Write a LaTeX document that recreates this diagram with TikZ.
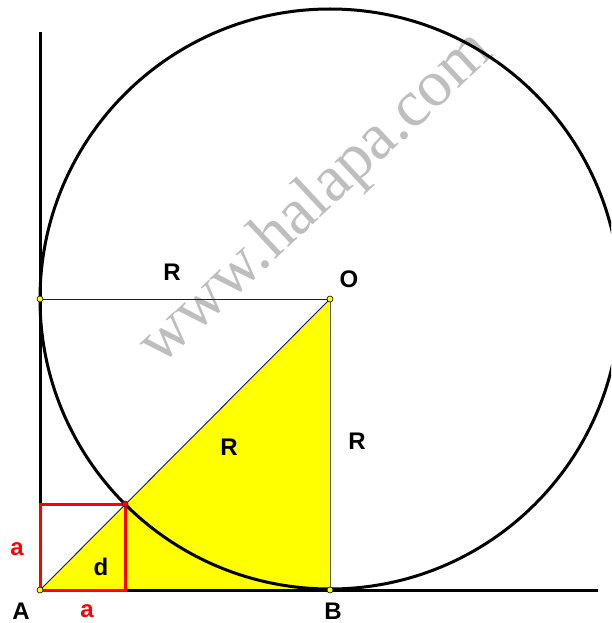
\documentclass[tikz,border=0pt]{standalone}
\usepackage{fontspec}
\setmainfont{Liberation Sans}
\newfontfamily\wmfont{Liberation Serif}
\definecolor{navy}{RGB}{20,20,120}
\definecolor{olivegray}{RGB}{90,90,50}
\definecolor{wmgray}{RGB}{190,190,190}
\definecolor{ptyellow}{RGB}{255,255,0}
\tikzset{
  heavy/.style={line width=3pt, black},
  thin/.style={line width=0.9pt},
  redline/.style={line width=3pt, red, line join=miter},
  ptdot/.style={circle, draw=black, fill=ptyellow, line width=0.6pt, inner sep=0pt, minimum size=6pt},
  reddot/.style={circle, draw=black!60!red, fill=red, line width=0.6pt, inner sep=0pt, minimum size=6pt},
  lbl/.style={font=\fontsize{24}{24}\selectfont\bfseries, inner sep=0pt},
  redlbl/.style={lbl, text=red}
}
\begin{document}
\begin{tikzpicture}[x=1pt,y=-1pt]
\useasboundingbox (0,0) rectangle (611,623);
\clip (0,0) rectangle (611,623);
\coordinate (A) at (40,590);
\coordinate (B) at (330,590);
\coordinate (O) at (330,299);
\coordinate (C) at (40,299);
\coordinate (P) at (125,504);
\coordinate (Q) at (40,504);
\coordinate (S) at (125,590);
\coordinate (Top) at (40,32);
\coordinate (End) at (598,590);
% watermark
\node[text=wmgray, font=\wmfont\fontsize{66}{66}\selectfont, rotate=43, inner sep=0pt] (wm) at (317,199) {www.halapa.com};
% yellow triangle
\fill[ptyellow] (A) -- (B) -- (O) -- cycle;
% circle
\draw[heavy] (O) circle[radius=290];
% axes
\draw[heavy] (Top) -- (A) -- (End);
% red square
\draw[redline] (A) -- (Q) -- (P) -- (S) -- cycle;
% thin lines
\draw[thin, navy] (A) -- (O);
\draw[thin, navy] (C) -- (O);
\draw[thin, olivegray] (O) -- (B);
% dots
\node[ptdot] (dA) at (A) {};
\node[ptdot] (dB) at (B) {};
\node[ptdot] (dO) at (O) {};
\node[ptdot] (dC) at (C) {};
\node[reddot] (dP) at (P) {};
% labels
\node[lbl] (lR1) at (172,272) {R};
\node[lbl] (lO) at (349,279) {O};
\node[lbl] (lR2) at (229,447) {R};
\node[lbl] (lR3) at (357,441) {R};
\node[lbl] (ld) at (101,567) {d};
\node[redlbl] (la1) at (17,549) {a};
\node[redlbl] (la2) at (87,611) {a};
\node[lbl] (lA) at (21,611) {A};
\node[lbl] (lB) at (333,611) {B};
\end{tikzpicture}
\end{document}
